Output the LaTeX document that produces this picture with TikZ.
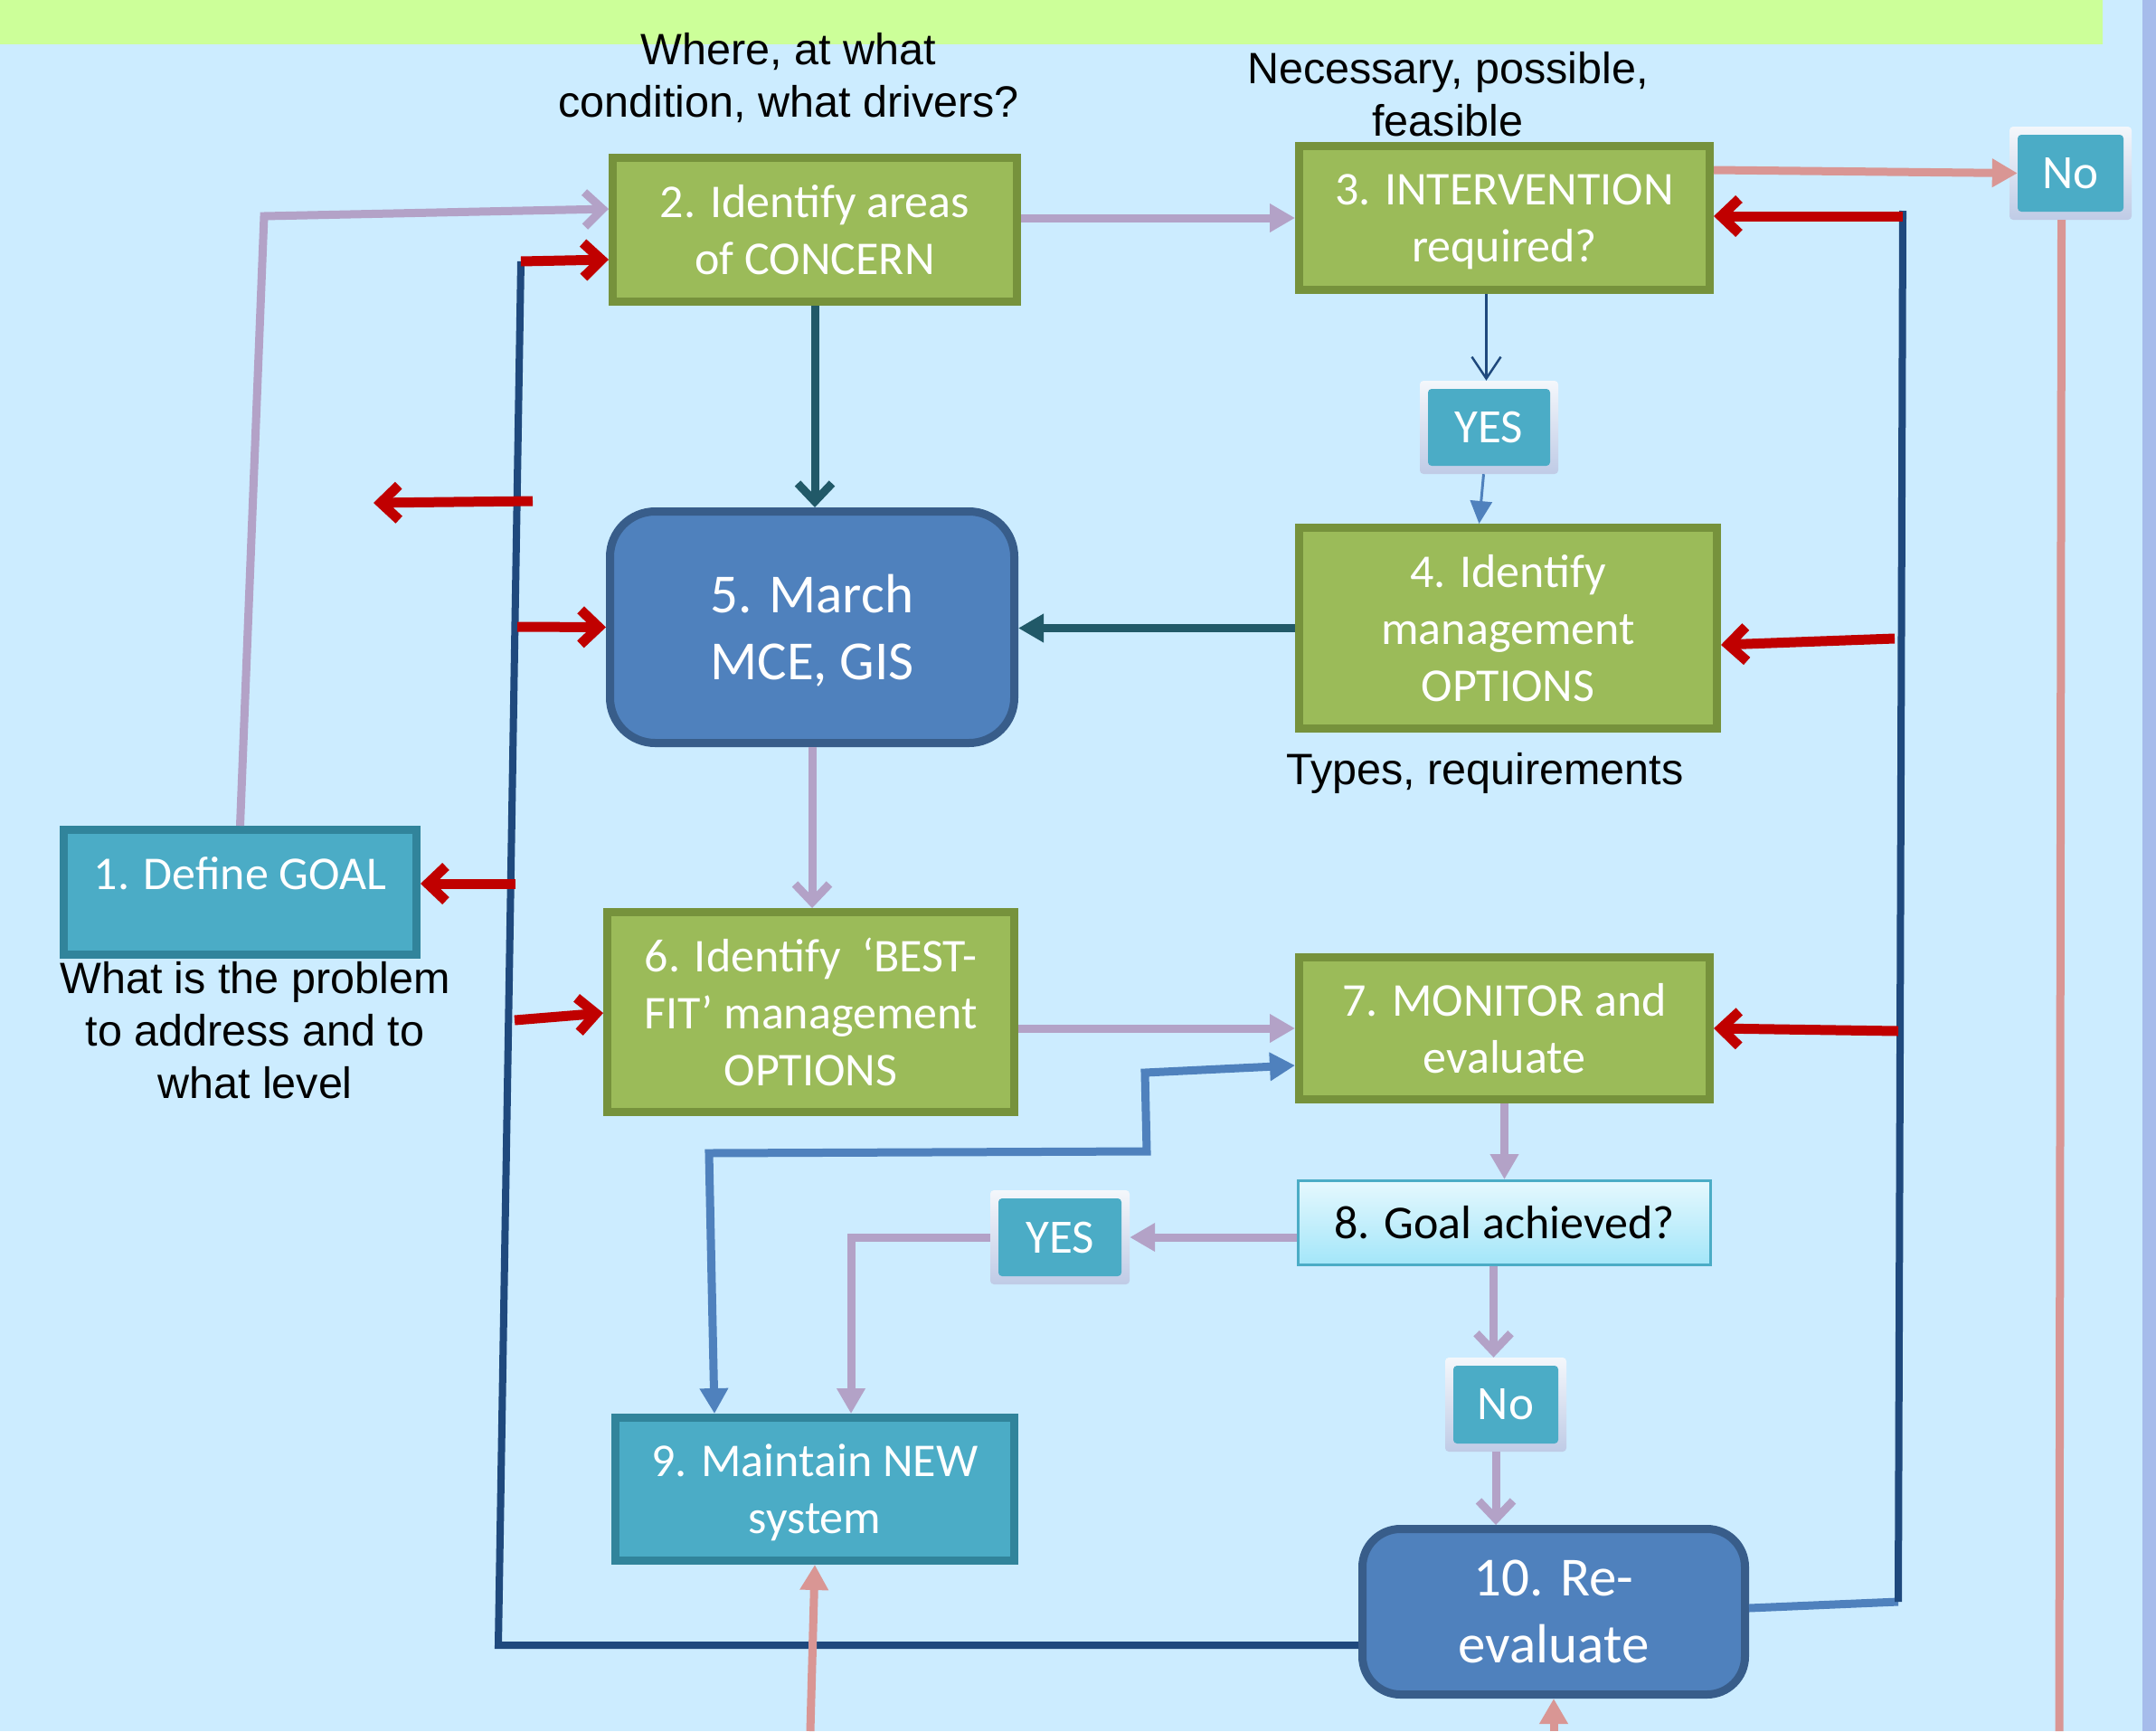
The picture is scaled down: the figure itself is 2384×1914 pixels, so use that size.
\documentclass[tikz,border=0pt]{standalone}
\usepackage{fontspec}
\setmainfont{Liberation Sans}
\newfontfamily\calfont{Carlito}
\usetikzlibrary{arrows.meta}
\definecolor{bgc}{HTML}{CCECFF}
\definecolor{bandc}{HTML}{CCFF99}
\definecolor{stripc}{HTML}{A6BCEB}
\definecolor{grf}{HTML}{9BBB59}
\definecolor{grb}{HTML}{76923C}
\definecolor{tlf}{HTML}{4BACC6}
\definecolor{tlb}{HTML}{31849B}
\definecolor{blf}{HTML}{4F81BD}
\definecolor{blb}{HTML}{385D8A}
\definecolor{redc}{HTML}{C00000}
\definecolor{lavc}{HTML}{B3A2C7}
\definecolor{pinkc}{HTML}{D99694}
\definecolor{dbc}{HTML}{1F497D}
\definecolor{dtc}{HTML}{215968}
\definecolor{mbc}{HTML}{4F81BD}
\definecolor{frhi}{HTML}{F4F7FB}
\definecolor{frlo}{HTML}{BFCBE6}
\definecolor{ehi}{HTML}{E5F8FE}
\definecolor{elo}{HTML}{A3E6F9}
\begin{document}
\begin{tikzpicture}[x=1pt,y=-1pt,
  box/.style={rectangle, line width=9pt, align=center, text=white, inner sep=0pt,
    font=\calfont\fontsize{52}{63}\selectfont},
  greenbox/.style={box, fill=grf, draw=grb},
  tealbox/.style={box, fill=tlf, draw=tlb},
  bluebox/.style={box, fill=blf, draw=blb, rounded corners=50pt,
    font=\calfont\fontsize{61}{74}\selectfont},
  boxtext/.style={text=white, inner sep=0pt, font=\calfont\fontsize{52}{63}\selectfont},
  smallbox/.style={rectangle, top color=frhi, bottom color=frlo, rounded corners=4pt,
    inner sep=0pt, text=white, font=\calfont\fontsize{53}{60}\selectfont,
    path picture={\fill[tlf] ([xshift=9pt,yshift=-9pt]path picture bounding box.north west)
      rectangle ([xshift=-9pt,yshift=9pt]path picture bounding box.south east);}},
  evalbox/.style={rectangle, top color=ehi, bottom color=elo, draw=tlf, line width=3pt,
    inner sep=0pt, text=black, font=\calfont\fontsize{52}{60}\selectfont},
  note/.style={align=center, inner sep=0pt, text=black, font=\fontsize{48.5}{58}\selectfont},
  redarr/.style={draw=redc, line width=11pt, -{Straight Barb[length=20pt,width=38pt]}},
  lavline/.style={draw=lavc, line width=9pt},
  lavopen/.style={lavline, -{Straight Barb[length=20pt,width=38pt]}},
  lavfill/.style={lavline, -{Triangle[length=28pt,width=30pt]}},
  tealopen/.style={draw=dtc, line width=9pt, -{Straight Barb[length=20pt,width=38pt]}},
  tealfill/.style={draw=dtc, line width=9pt, -{Triangle[length=28pt,width=30pt]}},
  thinline/.style={draw=dbc, line width=2.5pt, -{Straight Barb[length=24pt,width=32pt]}},
  thinblue/.style={draw=mbc, line width=3pt, -{Triangle[length=25pt,width=24pt]}},
  medline/.style={draw=mbc, line width=9pt},
  dbline/.style={draw=dbc, line width=8pt, line join=miter},
  pinkline/.style={draw=pinkc, line width=9pt},
  pinkfill/.style={pinkline, -{Triangle[length=28pt,width=30pt]}}
]
\useasboundingbox (0,0) rectangle (2384,1914);
\fill[bgc] (0,0) rectangle (2384,1914);
\fill[bandc] (0,0) rectangle (2325,49);
\fill[stripc] (2369,0) rectangle (2384,1914);

% annotations
\node[note] (t2) at (872,86) {Where, at what\\condition, what drivers?};
\node[note] (t3) at (1601,104) {Necessary, possible,\\feasible};
\node[note] (t4) at (1642,855) {Types, requirements};
\node[note] (t1) at (282,1139) {What is the problem\\to address and to\\what level};

% nodes
\node[tealbox, minimum width=390pt, minimum height=138pt] (n1) at (265.5,986.5) {};
\node[boxtext] (n1t) at (265.5,966) {1. Define GOAL};
\node[greenbox, minimum width=447pt, minimum height=159pt] (n2) at (901,254) {2. Identify areas\\of CONCERN};
\node[greenbox, text depth=0pt, minimum width=454pt, minimum height=159pt] (n3) at (1663.5,241) {3. INTERVENTION\\required?};
\node[greenbox, minimum width=462pt, minimum height=222pt] (n4) at (1667.5,694.5) {4. Identify\\management\\OPTIONS};
\node[bluebox, text depth=-3pt, minimum width=447pt, minimum height=256pt] (n5) at (898,693.5) {5. March\\MCE, GIS};
\node[greenbox, minimum width=450pt, minimum height=221pt] (n6) at (896.5,1119) {6. Identify~ ‘BEST-\\FIT’ management\\OPTIONS};
\node[greenbox, minimum width=454pt, minimum height=157pt] (n7) at (1663.5,1137) {7. MONITOR and\\evaluate};
\node[evalbox, minimum width=456pt, minimum height=93pt] (n8) at (1663.5,1352) {8. Goal achieved?};
\node[tealbox, text depth=0pt, minimum width=441pt, minimum height=158pt] (n9) at (901,1646.5) {9. Maintain NEW\\system};
\node[bluebox, text depth=-16pt, rounded corners=42pt, minimum width=423pt, minimum height=183pt] (n10) at (1718,1782) {10. Re-\\evaluate};

\node[smallbox, minimum width=135pt, minimum height=103pt] (noT) at (2289.5,191.5) {No};
\node[smallbox, minimum width=153pt, minimum height=103pt] (yesT) at (1646.5,472.5) {YES};
\node[smallbox, minimum width=154pt, minimum height=104pt] (yesL) at (1172,1368) {YES};
\node[smallbox, minimum width=134pt, minimum height=104pt] (noL) at (1665,1553) {No};

% purple connectors
\coordinate (a1) at (292,239);
\draw[lavopen] (n1.north) -- (a1) -- ([yshift=23pt]n2.west);
\draw[lavfill] (n2.east |- n3.west) -- (n3.west);
\draw[lavopen] (n5.south) -- (n5.south |- n6.north);
\draw[lavfill] (n6.east |- n7.west) -- (n7.west);
\draw[lavfill] (n7.south) -- (n8.north);
\draw[lavfill] (n8.west |- yesL.east) -- (yesL.east);
\draw[lavfill] (yesL.west) -| ([xshift=40pt]n9.north);
\draw[lavopen] ([xshift=-12pt]n8.south) -- ([xshift=-12pt]n8.south |- noL.north);
\draw[lavopen] ([xshift=-11pt]noL.south) -- ([xshift=-11pt]noL.south |- n10.north);

% dark teal
\draw[tealopen] (n2.south) -- (n2.south |- n5.north);
\draw[tealfill] (n4.west) -- (n4.west -| n5.east);

% thin connectors
\draw[thinline] ([xshift=-20pt]n3.south) -- ([xshift=-20pt]n3.south |- yesT.north);
\draw[thinblue] ([xshift=-6pt]yesT.south) -- ([xshift=-32pt]n4.north);

% medium blue double arrow 7 <-> 9
\coordinate (m1) at (1266,1186);
\coordinate (m2) at (1268,1273);
\coordinate (m3) at (784,1275);
\draw[medline, {Triangle[length=28pt,width=30pt]}-{Triangle[length=28pt,width=30pt]}]
  ([yshift=-41pt]n7.west) -- (m1) -- (m2) -- (m3) -- ([xshift=-111pt]n9.north);

% left loop
\coordinate (lb) at (551,1819);
\coordinate (lt) at (576,289);
\draw[dbline] ([yshift=-37pt]n10.west) -- (lb) -- (lt);
\draw[redarr] (lt) -- ([yshift=-33pt]n2.west);
\coordinate (r2a) at (589,554);
\coordinate (r2b) at (413,556);
\draw[redarr] (r2a) -- (r2b);
\coordinate (r3) at (572,693);
\draw[redarr] (r3) -- (n5.west);
\coordinate (r4) at (570,977);
\draw[redarr] (r4) -- ([yshift=9.5pt]n1.east);
\coordinate (r5) at (569,1128);
\draw[redarr] (r5) -- ([yshift=-1pt]n6.west);

% right loop
\coordinate (rb) at (2099,1771);
\coordinate (rt) at (2104,239);
\coordinate (rtop) at (2104,233);
\draw[medline] ([yshift=4pt]n10.east) -- (rb);
\draw[dbline] (rb) -- (rtop);
\draw[redarr] (rt) -- ([yshift=2pt]n3.east);
\coordinate (r6) at (2095,706);
\draw[redarr] (r6) -- ([yshift=-18.5pt]n4.east);
\coordinate (r7) at (2099,1140);
\draw[redarr] (r7) -- (n7.east);

% pink
\draw[pinkfill] ([yshift=53pt]n3.east) -- ([xshift=9pt]noT.west);
\coordinate (pb) at (2277,1914);
\draw[pinkline] ([xshift=-10pt]noT.south) -- (pb);
\coordinate (p9) at (896,1914);
\draw[pinkfill] (p9) -- (n9.south);
\coordinate (p10) at (1718,1914);
\draw[pinkfill] (p10) -- (n10.south);
\end{tikzpicture}
\end{document}
